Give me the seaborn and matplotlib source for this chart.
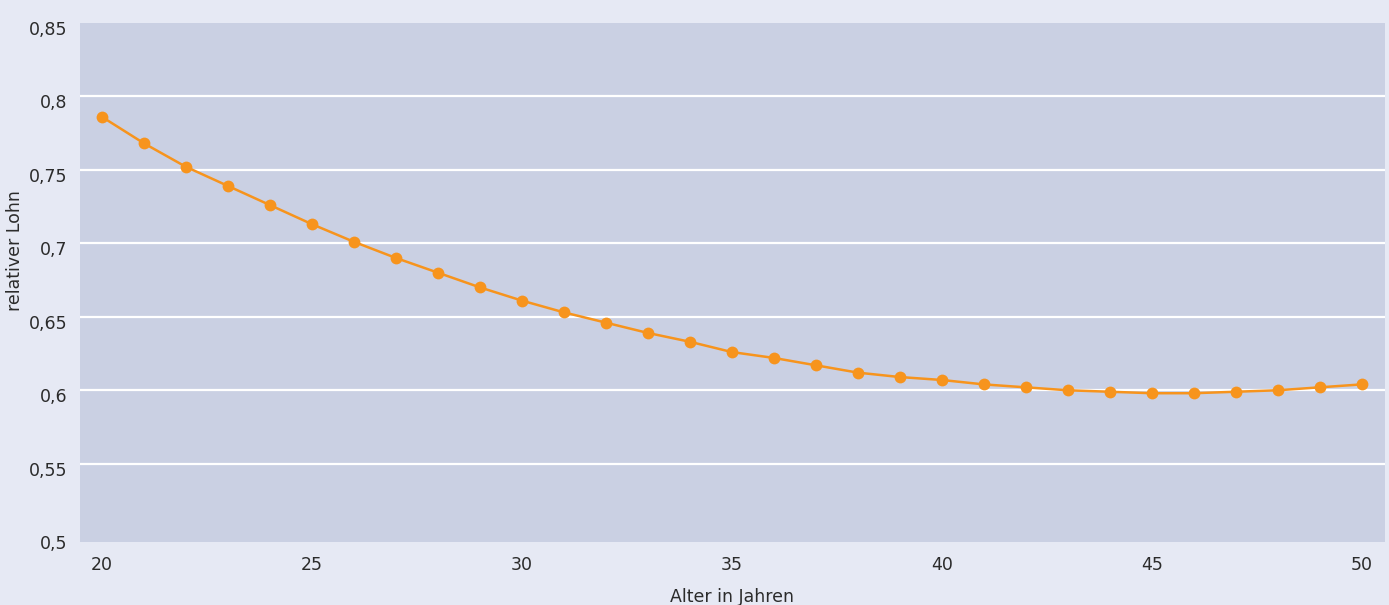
import numpy as np
import pandas as pd
import matplotlib
matplotlib.use("Agg")
import matplotlib.pyplot as plt
import matplotlib.transforms as mtransforms
import seaborn as sns

# Werte
alter = list(range(20, 51))
lohn = [0.786, 0.768, 0.752, 0.739, 0.726, 0.713, 0.701, 0.690, 0.680, 0.670,
        0.661, 0.653, 0.646, 0.639, 0.633, 0.626, 0.622, 0.617, 0.612, 0.609,
        0.607, 0.604, 0.602, 0.600, 0.599, 0.598, 0.598, 0.599, 0.600, 0.602,
        0.604]
y_ticks = [0.5, 0.55, 0.6, 0.65, 0.7, 0.75, 0.8, 0.85]
x_ticks = [20, 25, 30, 35, 40, 45, 50]

df = pd.DataFrame({'alter': alter, 'lohn': lohn})

sns.set_theme(style="darkgrid")
plt.rcParams['font.family'] = ['DejaVu Sans']

fig = plt.figure(figsize=(13.89, 6.05), dpi=100, facecolor='#e6e9f4')
ax = fig.add_axes([0.0576, 0.1046, 0.9394, 0.8579])
ax.set_facecolor('#cad0e3')

sns.lineplot(data=df, x='alter', y='lohn', ax=ax, color='#f7941d',
             linewidth=1.8, marker='o', markersize=8.5, markeredgewidth=0)

ax.set_xlim(19.48, 50.55)
ax.set_ylim(0.497, 0.8477)
ax.set_xticks(x_ticks)
ax.set_yticks(y_ticks)
ax.set_yticklabels([f"{v:g}".replace('.', ',') for v in y_ticks])
ax.set_xticklabels([str(v) for v in x_ticks])

# nur die inneren Gitterlinien zeigen
ax.grid(axis='x', visible=False)
ax.grid(axis='y', color='white', linewidth=1.6)
ax.yaxis.get_gridlines()[0].set_visible(False)
ax.yaxis.get_gridlines()[-1].set_visible(False)
for s in ax.spines.values():
    s.set_visible(False)

ax.tick_params(axis='both', length=0, labelsize=12.5, colors='#2b2b2b')
ax.tick_params(axis='x', pad=10)
ax.tick_params(axis='y', pad=9)
offset = mtransforms.ScaledTranslation(0, -5 / 100, fig.dpi_scale_trans)
for lbl in ax.get_yticklabels():
    lbl.set_transform(lbl.get_transform() + offset)

ax.set_xlabel('Alter in Jahren', fontsize=12.5, color='#2b2b2b')
ax.set_ylabel('relativer Lohn', fontsize=12.5, color='#2b2b2b')
ax.xaxis.set_label_coords(0.5, -0.09)
ax.yaxis.set_label_coords(-0.043, 0.56)

fig.savefig('out.png', dpi=100, facecolor=fig.get_facecolor())
